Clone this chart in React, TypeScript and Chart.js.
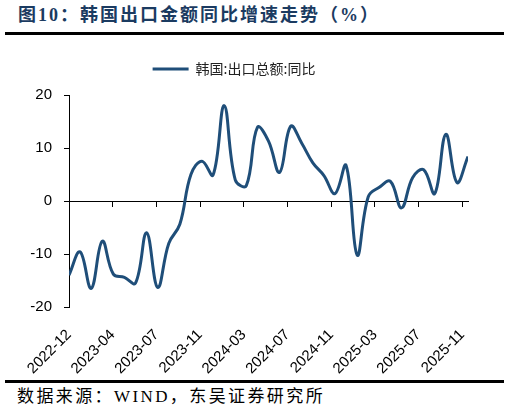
import { useEffect, useRef } from 'react';
import { Chart, registerables } from 'chart.js';

Chart.register(...registerables);

// monthly observations, 2022-11 .. 2025-11
const months = [
  '2022-11', '2022-12', '2023-01', '2023-02', '2023-03', '2023-04', '2023-05', '2023-06',
  '2023-07', '2023-08', '2023-09', '2023-10', '2023-11', '2023-12', '2024-01', '2024-02',
  '2024-03', '2024-04', '2024-05', '2024-06', '2024-07', '2024-08', '2024-09', '2024-10',
  '2024-11', '2024-12', '2025-01', '2025-02', '2025-03', '2025-04', '2025-05', '2025-06',
  '2025-07', '2025-08', '2025-09', '2025-10', '2025-11',
];

// 韩国:出口总额:同比 (%)
const exportYoY = [
  -14.0, -9.6, -16.5, -7.6, -13.8, -14.4, -15.5, -6.0,
  -16.3, -8.0, -4.4, 5.0, 7.5, 4.9, 18.0, 4.0,
  2.9, 13.9, 11.3, 5.4, 14.1, 10.9, 7.2, 4.8,
  1.4, 6.7, -10.2, 0.8, 2.6, 3.7, -1.3, 4.4,
  5.9, 1.4, 12.6, 3.5, 8.4,
];

// x axis labels, one every 120 days as in the source
const xTickLabels = [
  '2022-12', '2023-04', '2023-07', '2023-11', '2024-03',
  '2024-07', '2024-11', '2025-03', '2025-07', '2025-11',
];

const yMin = -20;
const yMax = 20;
const yStep = 10;

const LINE_COLOR = '#1F4E79';
const TICK_STEP = 120 / 30.44; // 120 days, in months
const PAD_LEFT = 0;

// extra room under the legend
const legendGap = {
  id: 'legendGap',
  beforeInit(chart: any) {
    const legend = chart.legend;
    if (!legend) return;
    const fit = legend.fit;
    legend.fit = function () {
      fit.call(this);
      this.height += 9;
    };
  },
};

export default function App() {
  const chartRef = useRef<HTMLCanvasElement>(null);
  const chartInstance = useRef<Chart | null>(null);

  useEffect(() => {
    if (!chartRef.current) return;
    if (chartInstance.current) chartInstance.current.destroy();
    const ctx = chartRef.current.getContext('2d');
    if (!ctx) return;

    const setTicks = (scale: any) => {
      scale.ticks = xTickLabels.map((_, k) => ({ value: k * TICK_STEP }));
    };

    chartInstance.current = new Chart(ctx, {
      type: 'line',
      data: {
        labels: months,
        datasets: [
          {
            label: '韩国:出口总额:同比',
            data: exportYoY.map((v, i) => ({ x: i, y: v })),
            borderColor: LINE_COLOR,
            backgroundColor: LINE_COLOR,
            borderWidth: 3,
            pointRadius: 0,
            tension: 0.4,
            xAxisID: 'x',
            yAxisID: 'y',
          },
        ],
      },
      plugins: [legendGap],
      options: {
        animation: false,
        responsive: true,
        maintainAspectRatio: false,
        layout: { padding: { left: PAD_LEFT, right: 42, top: 14, bottom: 0 } },
        plugins: {
          legend: {
            position: 'top',
            labels: {
              usePointStyle: true,
              pointStyle: 'line',
              pointStyleWidth: 36,
              padding: 12,
              color: '#222',
              font: { family: '"Noto Sans CJK SC"', size: 14 },
            },
          },
          tooltip: { enabled: false },
        },
        scales: {
          x: {
            type: 'linear',
            position: 'bottom',
            min: 0,
            max: months.length - 1,
            afterBuildTicks: setTicks,
            afterFit: (scale: any) => {
              scale.height = 69;
            },
            border: { display: false },
            grid: { display: false },
            ticks: {
              autoSkip: false,
              minRotation: 45,
              maxRotation: 45,
              padding: 11,
              color: '#000',
              font: { family: '"Liberation Sans", Arial', size: 15 },
              callback: (_v: any, i: number) => xTickLabels[i],
            },
          },
          x2: {
            type: 'linear',
            axis: 'x',
            position: { y: 0 },
            min: 0,
            max: months.length - 1,
            afterBuildTicks: setTicks,
            border: { display: true, color: '#000', width: 1 },
            grid: { drawOnChartArea: false, drawTicks: true, tickLength: 5, color: '#000' },
            ticks: { display: false },
          },
          y: {
            type: 'linear',
            min: yMin,
            max: yMax,
            afterFit: (scale: any) => {
              scale.width = 69 - PAD_LEFT;
            },
            border: { display: true, color: '#000', width: 1 },
            grid: { drawOnChartArea: false, drawTicks: true, tickLength: 5, color: '#000' },
            ticks: {
              stepSize: yStep,
              padding: 12,
              color: '#000',
              font: { family: '"Liberation Sans", Arial', size: 15 },
            },
          },
        },
      } as any,
    });

    return () => {
      if (chartInstance.current) {
        chartInstance.current.destroy();
        chartInstance.current = null;
      }
    };
  }, []);

  return (
    <div
      style={{
        position: 'absolute',
        left: 0,
        top: 0,
        width: 510,
        height: 413,
        background: '#fff',
        overflow: 'hidden',
      }}
    >
      <div
        style={{
          position: 'absolute',
          left: 18,
          top: 4,
          fontFamily: '"Liberation Serif", "Noto Sans CJK SC"',
          fontWeight: 'bold',
          fontSize: 18,
          lineHeight: '22px',
          letterSpacing: 2,
          color: '#1B3B61',
          whiteSpace: 'nowrap',
        }}
      >
        图10：韩国出口金额同比增速走势（%）
      </div>
      <div style={{ position: 'absolute', left: 5, top: 32, width: 499, height: 2.5, background: '#000' }} />
      <div style={{ position: 'absolute', left: 0, top: 36, width: 510, height: 340 }}>
        <canvas ref={chartRef} />
      </div>
      <div style={{ position: 'absolute', left: 5, top: 380, width: 499, height: 2.5, background: '#000' }} />
      <div
        style={{
          position: 'absolute',
          left: 17,
          top: 386,
          fontFamily: '"Liberation Serif", "Noto Sans CJK SC"',
          fontSize: 17,
          lineHeight: '22px',
          letterSpacing: 2.4,
          color: '#000',
          whiteSpace: 'nowrap',
        }}
      >
        数据来源：WIND，东吴证券研究所
      </div>
    </div>
  );
}
